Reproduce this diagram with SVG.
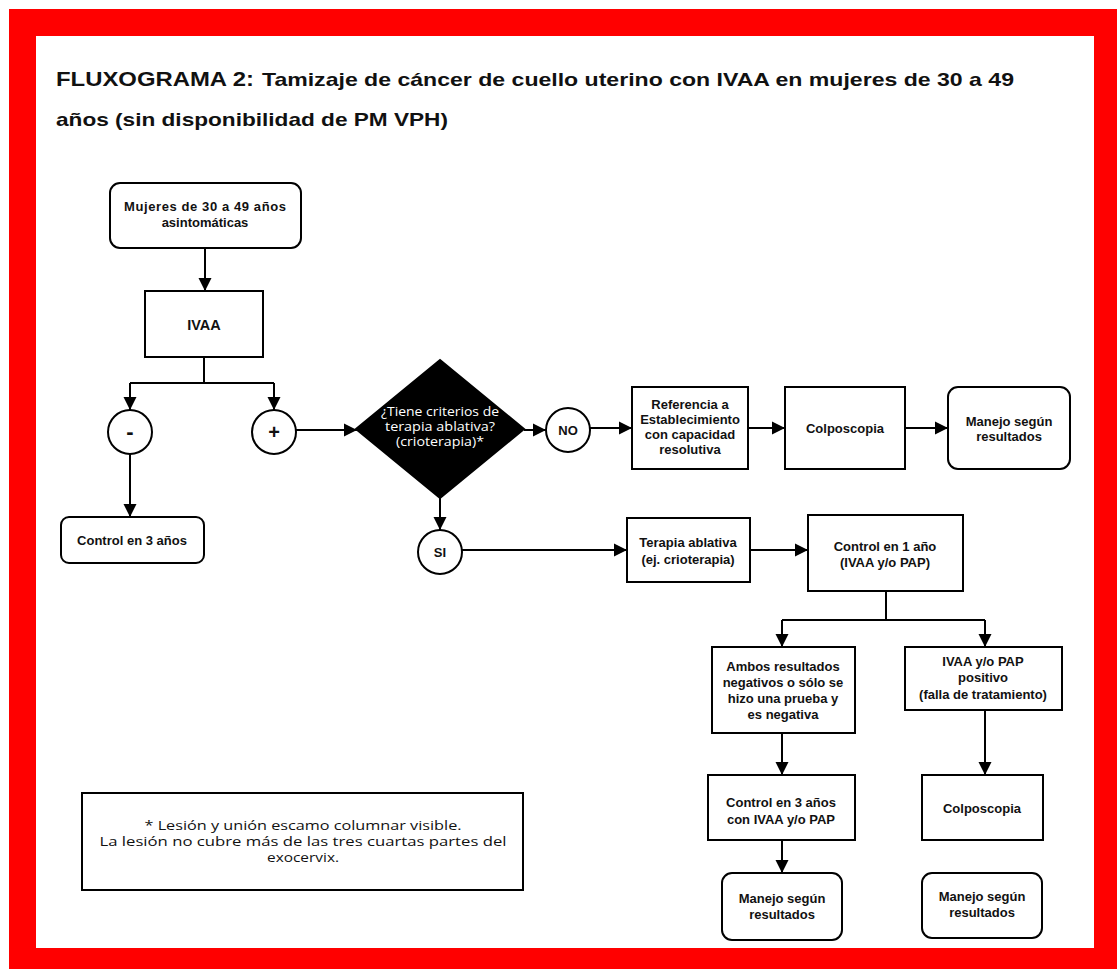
<svg xmlns="http://www.w3.org/2000/svg" width="1117" height="969" viewBox="0 0 1117 969">
<defs>
<marker id="arr" markerUnits="userSpaceOnUse" markerWidth="14" markerHeight="14" refX="13" refY="7" orient="auto">
<path d="M0,0.5 L13,7 L0,13.5 z" fill="#000"/>
</marker>
<style>
.box{fill:#fff;stroke:#000;stroke-width:2}
.t{font-family:"Liberation Sans",Arial,sans-serif;font-weight:bold;font-size:13px;fill:#111;text-anchor:middle}
.h{font-family:"Liberation Sans",Arial,sans-serif;font-weight:bold;fill:#111}
.w{font-family:"Open Sans","DejaVu Sans",sans-serif;font-size:12px;fill:#fff;text-anchor:middle}
.n{font-family:"Open Sans","DejaVu Sans",sans-serif;font-size:13.5px;fill:#111;text-anchor:middle}
.c{fill:none;stroke:#000;stroke-width:2}
.a{fill:none;stroke:#000;stroke-width:2;marker-end:url(#arr)}
</style>
</defs>
<rect x="0" y="0" width="1117" height="969" fill="#fff"/>
<rect x="9" y="9" width="1108" height="960" fill="#ff0000"/>
<rect x="36" y="36" width="1058" height="912" fill="#fff"/>

<g id="title">
<text class="h" x="56" y="86" font-size="20" textLength="198" lengthAdjust="spacingAndGlyphs">FLUXOGRAMA 2:</text>
<text class="h" x="262" y="86" font-size="18.5" textLength="752" lengthAdjust="spacingAndGlyphs">Tamizaje de cáncer de cuello uterino con IVAA en mujeres de 30 a 49</text>
<text class="h" x="56" y="126" font-size="18.5" textLength="392" lengthAdjust="spacingAndGlyphs">años (sin disponibilidad de PM VPH)</text>
</g>

<g id="connectors">
<path class="a" d="M205,248 V291"/>
<path class="c" d="M204,357 V383 M130,383 H274"/>
<path class="a" d="M130,383 V410"/>
<path class="a" d="M274,383 V410"/>
<path class="a" d="M130,454 V517"/>
<path class="a" d="M296,430 H357"/>
<path class="a" d="M524,430 H546"/>
<path class="a" d="M590,428 H632"/>
<path class="a" d="M748,428 H785"/>
<path class="a" d="M905,428 H948"/>
<path class="a" d="M440,498 V530"/>
<path class="a" d="M462,550 H627"/>
<path class="a" d="M750,550 H808"/>
<path class="c" d="M886,591 V620 M782,620 H985"/>
<path class="a" d="M782,620 V647"/>
<path class="a" d="M985,620 V647"/>
<path class="a" d="M782,733 V775"/>
<path class="a" d="M985,710 V775"/>
<path class="a" d="M782,840 V873"/>
</g>

<g id="n-mujeres">
<rect class="box" x="110" y="183" width="191" height="65" rx="10"/>
<text class="t" x="205" y="211" textLength="162" lengthAdjust="spacing">Mujeres de 30 a 49 años</text>
<text class="t" x="205" y="227">asintomáticas</text>
</g>
<g id="n-ivaa">
<rect class="box" x="145" y="291" width="118" height="66"/>
<text class="t" x="204" y="330" style="font-size:14.5px">IVAA</text>
</g>
<g id="n-neg">
<circle class="box" cx="130" cy="432" r="22"/>
<text class="t" x="130" y="439" style="font-size:22px">-</text>
</g>
<g id="n-pos">
<circle class="box" cx="274" cy="432" r="22"/>
<text class="t" x="274" y="439" style="font-size:20px">+</text>
</g>
<g id="n-control3">
<rect class="box" x="61" y="517" width="143" height="46" rx="8"/>
<text class="t" x="132" y="545">Control en 3 años</text>
</g>
<g id="n-decision">
<path d="M440,360 L524,429 L440,498 L356,429 z" fill="#000" stroke="#000" stroke-width="2"/>
<text class="w" x="440" y="416" textLength="118" lengthAdjust="spacingAndGlyphs">¿Tiene criterios de</text>
<text class="w" x="440" y="431" textLength="110" lengthAdjust="spacingAndGlyphs">terapia ablativa?</text>
<text class="w" x="440" y="446" textLength="88" lengthAdjust="spacingAndGlyphs">(crioterapia)*</text>
</g>
<g id="n-no">
<circle class="box" cx="568" cy="430" r="22"/>
<text class="t" x="568" y="435">NO</text>
</g>
<g id="n-si">
<circle class="box" cx="440" cy="552" r="22"/>
<text class="t" x="440" y="557">SI</text>
</g>
<g id="n-referencia">
<rect class="box" x="632" y="387" width="116" height="82"/>
<text class="t" x="690" y="409">Referencia a</text>
<text class="t" x="690" y="424">Establecimiento</text>
<text class="t" x="690" y="439">con capacidad</text>
<text class="t" x="690" y="454">resolutiva</text>
</g>
<g id="n-colpo1">
<rect class="box" x="785" y="387" width="120" height="82"/>
<text class="t" x="845" y="433">Colposcopia</text>
</g>
<g id="n-manejo1">
<rect class="box" x="948" y="387" width="122" height="82" rx="10"/>
<text class="t" x="1009" y="426">Manejo según</text>
<text class="t" x="1009" y="441">resultados</text>
</g>
<g id="n-terapia">
<rect class="box" x="627" y="518" width="123" height="64"/>
<text class="t" x="688" y="547">Terapia ablativa</text>
<text class="t" x="688" y="564">(ej. crioterapia)</text>
</g>
<g id="n-control1">
<rect class="box" x="808" y="515" width="155" height="76"/>
<text class="t" x="885" y="551">Control en 1 año</text>
<text class="t" x="885" y="567">(IVAA y/o PAP)</text>
</g>
<g id="n-ambos">
<rect class="box" x="712" y="647" width="143" height="86"/>
<text class="t" x="783" y="671">Ambos resultados</text>
<text class="t" x="783" y="687">negativos o sólo se</text>
<text class="t" x="783" y="703">hizo una prueba y</text>
<text class="t" x="783" y="719">es negativa</text>
</g>
<g id="n-positivo">
<rect class="box" x="905" y="647" width="157" height="63"/>
<text class="t" x="983" y="666">IVAA y/o  PAP</text>
<text class="t" x="983" y="682">positivo</text>
<text class="t" x="983" y="699">(falla de tratamiento)</text>
</g>
<g id="n-control3b">
<rect class="box" x="708" y="775" width="147" height="65"/>
<text class="t" x="781" y="807">Control en 3 años</text>
<text class="t" x="781" y="824">con IVAA y/o PAP</text>
</g>
<g id="n-colpo2">
<rect class="box" x="922" y="775" width="121" height="65"/>
<text class="t" x="982" y="813">Colposcopia</text>
</g>
<g id="n-manejo2">
<rect class="box" x="722" y="873" width="120" height="67" rx="10"/>
<text class="t" x="782" y="903">Manejo según</text>
<text class="t" x="782" y="919">resultados</text>
</g>
<g id="n-manejo3">
<rect class="box" x="922" y="873" width="120" height="65" rx="10"/>
<text class="t" x="982" y="901">Manejo según</text>
<text class="t" x="982" y="917">resultados</text>
</g>
<g id="n-nota">
<rect class="box" x="82" y="793" width="441" height="97"/>
<text class="n" x="303" y="830" textLength="317" lengthAdjust="spacingAndGlyphs">* Lesión y unión escamo columnar visible.</text>
<text class="n" x="303" y="846" textLength="407" lengthAdjust="spacingAndGlyphs">La lesión no cubre más de las tres cuartas partes del</text>
<text class="n" x="303" y="862" textLength="72" lengthAdjust="spacingAndGlyphs">exocervix.</text>
</g>
</svg>
